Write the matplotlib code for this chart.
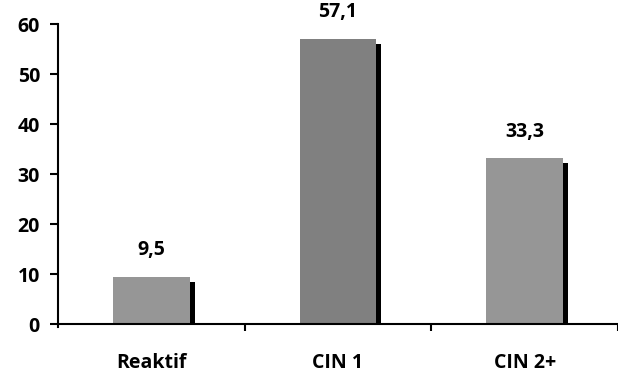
import numpy as np
import matplotlib.pyplot as plt

categories = ['Reaktif', 'CIN 1', 'CIN 2+']
values = [9.5, 57.1, 33.3]
labels = ['9,5', '57,1', '33,3']
colors = ['#969696', '#808080', '#969696']

plt.rcParams['font.family'] = ['Open Sans', 'DejaVu Sans']
plt.rcParams['font.weight'] = 'bold'

fig = plt.figure(figsize=(6.18, 3.8), dpi=100)
ax = fig.add_axes([58 / 618, 56 / 380, 560 / 618, 300 / 380])

x = np.arange(len(categories))
width = 0.41
fs = 14

# shadow behind each bar
ax.bar(x + 0.028, np.array(values) - 1, width, color='black', zorder=1)
ax.bar(x, values, width, color=colors, zorder=2)

for xi, v, lab in zip(x, values, labels):
    ax.text(xi, v + 4.2, lab, ha='center', va='baseline', fontsize=fs, fontweight='bold')

ax.set_xlim(-0.5, 2.5)
ax.set_ylim(0, 60)
ax.set_yticks(range(0, 61, 10))
ax.set_xticks(x)
ax.set_xticklabels(categories)
ax.set_xticks([0.5, 1.5, 2.5], minor=True)

ax.spines['top'].set_visible(False)
ax.spines['right'].set_visible(False)
ax.spines['left'].set_linewidth(1.5)
ax.spines['bottom'].set_linewidth(1.5)
ax.spines['left'].set_bounds(-0.6, 60)

ax.tick_params(axis='x', which='major', length=0, pad=21, labelsize=fs)
ax.tick_params(axis='x', which='minor', length=5, width=1.5, direction='out')
ax.tick_params(axis='y', length=6, width=1.5, direction='out', labelsize=fs, pad=7)

for t in ax.get_xticklabels() + ax.get_yticklabels():
    t.set_fontweight('bold')

fig.savefig('out.png', dpi=100)
